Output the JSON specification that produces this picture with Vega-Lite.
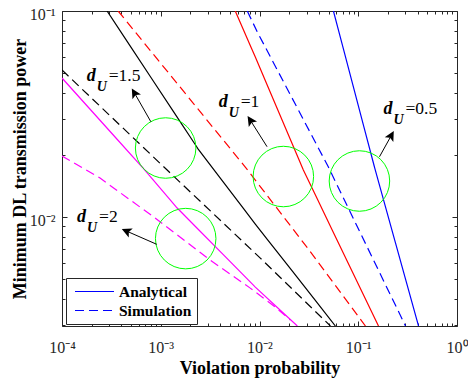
{
  "$schema": "https://vega.github.io/schema/vega-lite/v6.json",
  "width": 395,
  "height": 315,
  "autosize": "none",
  "padding": {"left": 62, "top": 11, "right": 11, "bottom": 58},
  "background": "white",
  "config": {
    "view": {"stroke": "#262626", "strokeWidth": 1},
    "font": "Liberation Serif",
    "axis": {"grid": false, "domain": false, "labelFont": "Liberation Serif", "titleFont": "Liberation Serif", "tickColor": "#262626", "labelColor": "#262626", "titleColor": "#000000", "tickWidth": 1}
  },
  "datasets": {
    "lines": [
      {"dU": "0.5", "type": "Analytical", "x": 0.05605, "y": 0.1},
      {"dU": "0.5", "type": "Analytical", "x": 0.146, "y": 0.01748},
      {"dU": "0.5", "type": "Analytical", "x": 0.4077, "y": 0.00296},
      {"dU": "0.5", "type": "Simulation", "x": 0.00752, "y": 0.1},
      {"dU": "0.5", "type": "Simulation", "x": 0.0095, "y": 0.0791},
      {"dU": "0.5", "type": "Simulation", "x": 0.04985, "y": 0.01748},
      {"dU": "0.5", "type": "Simulation", "x": 0.3011, "y": 0.00296},
      {"dU": "1", "type": "Analytical", "x": 0.00568, "y": 0.1},
      {"dU": "1", "type": "Analytical", "x": 0.00907, "y": 0.0598},
      {"dU": "1", "type": "Analytical", "x": 0.0278, "y": 0.01691},
      {"dU": "1", "type": "Analytical", "x": 0.1603, "y": 0.00296},
      {"dU": "1", "type": "Simulation", "x": 0.00037, "y": 0.1},
      {"dU": "1", "type": "Simulation", "x": 0.00718, "y": 0.01748},
      {"dU": "1", "type": "Simulation", "x": 0.03126, "y": 0.00699},
      {"dU": "1", "type": "Simulation", "x": 0.1183, "y": 0.00296},
      {"dU": "1.5", "type": "Analytical", "x": 0.000286, "y": 0.1},
      {"dU": "1.5", "type": "Analytical", "x": 0.002394, "y": 0.02138},
      {"dU": "1.5", "type": "Analytical", "x": 0.00907, "y": 0.00925},
      {"dU": "1.5", "type": "Analytical", "x": 0.0587, "y": 0.00296},
      {"dU": "1.5", "type": "Simulation", "x": 0.0001, "y": 0.05171},
      {"dU": "1.5", "type": "Simulation", "x": 0.001161, "y": 0.01691},
      {"dU": "1.5", "type": "Simulation", "x": 0.01019, "y": 0.00632},
      {"dU": "1.5", "type": "Simulation", "x": 0.05226, "y": 0.00296},
      {"dU": "2", "type": "Analytical", "x": 0.0001, "y": 0.04729},
      {"dU": "2", "type": "Analytical", "x": 0.000648, "y": 0.01748},
      {"dU": "2", "type": "Analytical", "x": 0.001467, "y": 0.01106},
      {"dU": "2", "type": "Analytical", "x": 0.00907, "y": 0.004573},
      {"dU": "2", "type": "Analytical", "x": 0.02417, "y": 0.00296},
      {"dU": "2", "type": "Simulation", "x": 0.0001, "y": 0.01977},
      {"dU": "2", "type": "Simulation", "x": 0.0002428, "y": 0.01546},
      {"dU": "2", "type": "Simulation", "x": 0.000877, "y": 0.00989},
      {"dU": "2", "type": "Simulation", "x": 0.00317, "y": 0.00618},
      {"dU": "2", "type": "Simulation", "x": 0.00806, "y": 0.00452},
      {"dU": "2", "type": "Simulation", "x": 0.01446, "y": 0.003656},
      {"dU": "2", "type": "Simulation", "x": 0.02053, "y": 0.003162}
    ],
    "circles": [
      {"dU": "0.5", "x": 0.1028, "y": 0.01496},
      {"dU": "1", "x": 0.01744, "y": 0.01573},
      {"dU": "1.5", "x": 0.001121, "y": 0.02163},
      {"dU": "2", "x": 0.001789, "y": 0.00786}
    ],
    "arrows": [
      {"dU": "0.5", "x": 0.1641, "y": 0.01962, "hx": 0.2116, "hy": 0.02443},
      {"dU": "1", "x": 0.01192, "y": 0.02195, "hx": 0.008277, "hy": 0.02896},
      {"dU": "1.5", "x": 0.000794, "y": 0.02902, "hx": 0.0005525, "hy": 0.03936},
      {"dU": "2", "x": 0.000913, "y": 0.00737, "hx": 0.000468, "hy": 0.00848}
    ],
    "labels": [
      {"dU": "0.5", "x": 0.1801, "y": 0.03162, "eq": "=0.5"},
      {"dU": "1", "x": 0.003866, "y": 0.0342, "eq": "=1"},
      {"dU": "1.5", "x": 0.000178, "y": 0.04573, "eq": "=1.5"},
      {"dU": "2", "x": 0.0001419, "y": 0.00943, "eq": "=2"}
    ]
  },
  "resolve": {"axis": {"x": "independent", "y": "independent"}},
  "layer": [
    {
      "data": {"name": "lines"},
      "mark": {"type": "line", "strokeWidth": 1.2, "clip": true},
      "encoding": {
        "x": {"field": "x", "type": "quantitative", "scale": {"type": "log", "domain": [0.0001, 1], "nice": false},
          "axis": {"orient": "bottom", "values": [0.0001, 0.001, 0.01, 0.1, 1], "ticks": false, "labelExpr": "'10' + ['⁰','⁻¹','⁻²','⁻³','⁻⁴'][round(-log(datum.value)/LN10)]", "labelFontSize": 16, "labelPadding": 26, "labelBaseline": "alphabetic", "labelFlush": false, "labelOverlap": false, "title": "Violation probability", "titleFontSize": 18, "titleFontWeight": "bold", "titleBaseline": "alphabetic", "titleY": 47}},
        "y": {"field": "y", "type": "quantitative", "scale": {"type": "log", "domain": [0.00296, 0.1], "nice": false},
          "axis": {"orient": "left", "values": [0.01, 0.1], "ticks": false, "labelExpr": "'10' + ['⁰','⁻¹','⁻²','⁻³','⁻⁴'][round(-log(datum.value)/LN10)]", "labelFontSize": 16, "labelPadding": 7, "labelBaseline": "alphabetic", "labelOffset": 8, "labelOverlap": false, "labelFlush": false, "title": "Minimum DL transmission power", "titleFontSize": 18, "titleFontWeight": "bold", "titleBaseline": "alphabetic", "titleX": -37}},
        "color": {"field": "dU", "type": "nominal", "scale": {"domain": ["0.5", "1", "1.5", "2"], "range": ["#0000ff", "#ff0000", "#000000", "#ff00ff"]}, "legend": null},
        "strokeDash": {"field": "type", "type": "nominal", "scale": {"domain": ["Analytical", "Simulation"], "range": [[40, 0], [9, 5]]},
          "legend": {"title": null, "orient": "none", "legendX": 4, "legendY": 267, "direction": "vertical", "symbolType": "M-1,0L1,0", "symbolSize": 1521, "symbolStrokeColor": "#0000ff", "symbolStrokeWidth": 1.2, "clipHeight": 17, "rowPadding": 2, "padding": 5, "symbolOffset": 3, "labelOffset": 4, "labelFont": "Liberation Serif", "labelFontSize": 15.5, "labelFontWeight": "bold", "labelColor": "#000000", "fillColor": "#ffffff", "strokeColor": "#262626", "labelLimit": 200,
            "encode": {"symbols": {"update": {"stroke": {"value": "#0000ff"}, "strokeWidth": {"value": 1.2}, "opacity": {"value": 1}}}}}}
      }
    },
    {
      "data": {"name": "circles"},
      "mark": {"type": "point", "shape": "circle", "size": 3660, "filled": false, "stroke": "#00ff00", "strokeWidth": 1, "opacity": 1},
      "encoding": {
        "x": {"field": "x", "type": "quantitative", "scale": {"type": "log", "domain": [0.0001, 1], "nice": false},
          "axis": {"orient": "bottom", "values": [0.0001, 0.001, 0.01, 0.1, 1], "labels": false, "tickSize": -5, "title": null}},
        "y": {"field": "y", "type": "quantitative", "scale": {"type": "log", "domain": [0.00296, 0.1], "nice": false},
          "axis": {"orient": "left", "values": [0.01, 0.1], "labels": false, "tickSize": -5, "title": null}}
      }
    },
    {
      "data": {"name": "arrows"},
      "mark": {"type": "rule", "color": "#000000", "strokeWidth": 1},
      "encoding": {
        "x": {"field": "x", "type": "quantitative", "scale": {"type": "log", "domain": [0.0001, 1], "nice": false},
          "axis": {"orient": "bottom", "values": [0.0002, 0.0003, 0.0004, 0.0005, 0.0006, 0.0007, 0.0008, 0.0009, 0.002, 0.003, 0.004, 0.005, 0.006, 0.007, 0.008, 0.009, 0.02, 0.03, 0.04, 0.05, 0.06, 0.07, 0.08, 0.09, 0.2, 0.3, 0.4, 0.5, 0.6, 0.7, 0.8, 0.9], "labels": false, "tickSize": -3, "title": null}},
        "y": {"field": "y", "type": "quantitative", "scale": {"type": "log", "domain": [0.00296, 0.1], "nice": false},
          "axis": {"orient": "left", "values": [0.003, 0.004, 0.005, 0.006, 0.007, 0.008, 0.009, 0.02, 0.03, 0.04, 0.05, 0.06, 0.07, 0.08, 0.09], "labels": false, "tickSize": -3, "title": null}},
        "x2": {"field": "hx"},
        "y2": {"field": "hy"}
      }
    },
    {
      "data": {"name": "arrows"},
      "transform": [{"filter": "datum.dU == '0.5'"}],
      "mark": {"type": "point", "shape": "M0,-1L0.7,0.4L0,0.1L-0.7,0.4Z", "size": 196, "filled": true, "fill": "#000000", "strokeWidth": 0, "opacity": 1, "angle": 29},
      "encoding": {
        "x": {"field": "hx", "type": "quantitative", "scale": {"type": "log", "domain": [0.0001, 1], "nice": false},
          "axis": {"orient": "top", "values": [0.0001, 0.001, 0.01, 0.1, 1], "labels": false, "tickSize": -5, "title": null}},
        "y": {"field": "hy", "type": "quantitative", "scale": {"type": "log", "domain": [0.00296, 0.1], "nice": false},
          "axis": {"orient": "right", "values": [0.01, 0.1], "labels": false, "tickSize": -5, "title": null}}
      }
    },
    {
      "data": {"name": "arrows"},
      "transform": [{"filter": "datum.dU == '1'"}],
      "mark": {"type": "point", "shape": "M0,-1L0.7,0.4L0,0.1L-0.7,0.4Z", "size": 196, "filled": true, "fill": "#000000", "strokeWidth": 0, "opacity": 1, "angle": 327},
      "encoding": {
        "x": {"field": "hx", "type": "quantitative", "scale": {"type": "log", "domain": [0.0001, 1], "nice": false},
          "axis": {"orient": "top", "values": [0.0002, 0.0003, 0.0004, 0.0005, 0.0006, 0.0007, 0.0008, 0.0009, 0.002, 0.003, 0.004, 0.005, 0.006, 0.007, 0.008, 0.009, 0.02, 0.03, 0.04, 0.05, 0.06, 0.07, 0.08, 0.09, 0.2, 0.3, 0.4, 0.5, 0.6, 0.7, 0.8, 0.9], "labels": false, "tickSize": -3, "title": null}},
        "y": {"field": "hy", "type": "quantitative", "scale": {"type": "log", "domain": [0.00296, 0.1], "nice": false},
          "axis": {"orient": "right", "values": [0.003, 0.004, 0.005, 0.006, 0.007, 0.008, 0.009, 0.02, 0.03, 0.04, 0.05, 0.06, 0.07, 0.08, 0.09], "labels": false, "tickSize": -3, "title": null}}
      }
    },
    {
      "data": {"name": "arrows"},
      "transform": [{"filter": "datum.dU == '1.5'"}],
      "mark": {"type": "point", "shape": "M0,-1L0.7,0.4L0,0.1L-0.7,0.4Z", "size": 196, "filled": true, "fill": "#000000", "strokeWidth": 0, "opacity": 1, "angle": 330},
      "encoding": {
        "x": {"field": "hx", "type": "quantitative", "scale": {"type": "log", "domain": [0.0001, 1], "nice": false}, "axis": null},
        "y": {"field": "hy", "type": "quantitative", "scale": {"type": "log", "domain": [0.00296, 0.1], "nice": false}, "axis": null}
      }
    },
    {
      "data": {"name": "arrows"},
      "transform": [{"filter": "datum.dU == '2'"}],
      "mark": {"type": "point", "shape": "M0,-1L0.7,0.4L0,0.1L-0.7,0.4Z", "size": 196, "filled": true, "fill": "#000000", "strokeWidth": 0, "opacity": 1, "angle": 294},
      "encoding": {
        "x": {"field": "hx", "type": "quantitative", "scale": {"type": "log", "domain": [0.0001, 1], "nice": false}, "axis": null},
        "y": {"field": "hy", "type": "quantitative", "scale": {"type": "log", "domain": [0.00296, 0.1], "nice": false}, "axis": null}
      }
    },
    {
      "data": {"name": "labels"},
      "mark": {"type": "text", "text": "d", "font": "Liberation Serif", "fontSize": 18, "fontStyle": "italic", "fontWeight": "bold", "align": "left", "baseline": "alphabetic", "color": "#000000"},
      "encoding": {
        "x": {"field": "x", "type": "quantitative", "scale": {"type": "log", "domain": [0.0001, 1], "nice": false}, "axis": null},
        "y": {"field": "y", "type": "quantitative", "scale": {"type": "log", "domain": [0.00296, 0.1], "nice": false}, "axis": null}
      }
    },
    {
      "data": {"name": "labels"},
      "mark": {"type": "text", "text": "U", "font": "Liberation Serif", "fontSize": 14, "fontStyle": "italic", "fontWeight": "bold", "align": "left", "baseline": "alphabetic", "dx": 10, "dy": 9.5, "color": "#000000"},
      "encoding": {
        "x": {"field": "x", "type": "quantitative", "scale": {"type": "log", "domain": [0.0001, 1], "nice": false}, "axis": null},
        "y": {"field": "y", "type": "quantitative", "scale": {"type": "log", "domain": [0.00296, 0.1], "nice": false}, "axis": null}
      }
    },
    {
      "data": {"name": "labels"},
      "mark": {"type": "text", "font": "Liberation Serif", "fontSize": 17.5, "align": "left", "baseline": "alphabetic", "dx": 22, "color": "#000000"},
      "encoding": {
        "x": {"field": "x", "type": "quantitative", "scale": {"type": "log", "domain": [0.0001, 1], "nice": false}, "axis": null},
        "y": {"field": "y", "type": "quantitative", "scale": {"type": "log", "domain": [0.00296, 0.1], "nice": false}, "axis": null},
        "text": {"field": "eq"}
      }
    }
  ]
}
